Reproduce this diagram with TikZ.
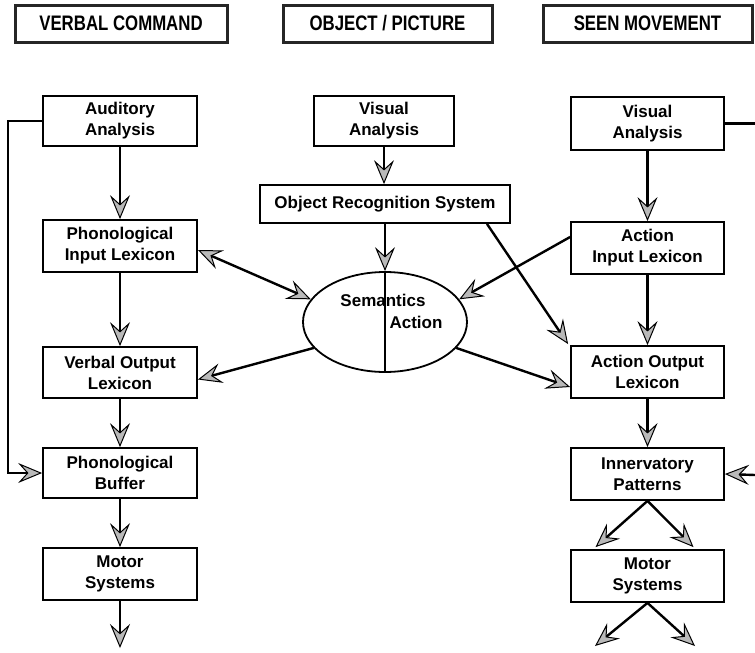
\documentclass[tikz,border=0pt]{standalone}
\usepackage{fontspec}
\setmainfont{Liberation Sans}
\newfontfamily\hdrfont[FakeStretch=0.8]{Liberation Sans}
\usetikzlibrary{arrows.meta,shapes.geometric}
\tikzset{
  gtip/.tip={Stealth[length=24pt,width=20pt,inset=9pt,fill=gray!55,line width=1pt]}}
\begin{document}
\begin{tikzpicture}[x=1pt,y=-1pt,
  box/.style={draw, line width=1.8pt, align=center, inner sep=0pt,
    font=\fontsize{17}{21}\selectfont\bfseries},
  hdr/.style={draw=black!85, line width=3pt, inner sep=0pt, minimum height=37pt,
    font=\hdrfont\fontsize{21}{24}\selectfont\bfseries},
  arr/.style={line width=2.4pt, -gtip},
  darr/.style={line width=2.4pt, gtip-gtip},
  ln/.style={line width=2.2pt}]
\useasboundingbox (0,0) rectangle (755,653);
% headers
\node[hdr, minimum width=212pt] (h1) at (121,23.5) {VERBAL COMMAND};
\node[hdr, minimum width=209pt] (h2) at (387.5,23.5) {OBJECT / PICTURE};
\node[hdr, minimum width=209pt] (h3) at (647.5,23.5) {SEEN MOVEMENT};
% left column
\node[box, minimum width=154pt, minimum height=50pt] (aud) at (120,121) {Auditory\\Analysis};
\node[box, minimum width=154pt, minimum height=52pt] (pil) at (120,246) {Phonological\\Input Lexicon};
\node[box, minimum width=154pt, minimum height=51pt] (vol) at (120,372.5) {Verbal Output\\Lexicon};
\node[box, minimum width=154pt, minimum height=50pt] (pb) at (120,473) {Phonological\\Buffer};
\node[box, minimum width=154pt, minimum height=52pt] (ms1) at (120,574) {Motor\\Systems};
\coordinate (out1) at (120,648);
\coordinate (fbtop) at (8,121);
\coordinate (fbbot) at (8,473);
% middle
\node[box, minimum width=140pt, minimum height=50pt] (va1) at (384,121) {Visual\\Analysis};
\node[box, minimum width=250pt, minimum height=38pt] (ors) at (385,204) {Object Recognition System};
\node[draw, line width=1.8pt, ellipse, minimum width=164pt, minimum height=100pt, inner sep=0pt] (ell) at (385,322) {};
\node[font=\fontsize{17}{21}\selectfont\bfseries, inner sep=0pt] (sem) at (383,300) {Semantics};
\node[font=\fontsize{17}{21}\selectfont\bfseries, inner sep=0pt] (act) at (416,322) {Action};
% right column
\node[box, minimum width=153pt, minimum height=53pt] (va2) at (647.5,123.5) {Visual\\Analysis};
\node[box, minimum width=153pt, minimum height=52pt] (ail) at (647.5,248) {Action\\Input Lexicon};
\node[box, minimum width=153pt, minimum height=52pt] (aol) at (647.5,372) {Action Output\\Lexicon};
\node[box, minimum width=153pt, minimum height=52pt] (ip) at (647.5,474) {Innervatory\\Patterns};
\node[box, minimum width=153pt, minimum height=52pt] (ms2) at (647.5,576) {Motor\\Systems};
\coordinate (vaout) at (755,123.5);
\coordinate (ipin) at (755,475);
\coordinate (o2a) at (595,646);
\coordinate (o2b) at (695,646);
% left connectors
\draw[arr] (aud.south) -- (pil.north);
\draw[arr] (pil.south) -- (vol.north);
\draw[arr] (vol.south) -- (pb.north);
\draw[arr] (pb.south) -- (ms1.north);
\draw[arr] (ms1.south) -- (out1);
\draw[arr] (aud.west) -- (fbtop) -- (fbbot) -- (pb.west);
% middle connectors
\draw[arr] (va1.south) -- (va1.south |- ors.north);
\draw[arr] (ors.south) -- (ell.north);
\draw[ln] (ell.north) -- (ell.south);
\draw[darr] ([yshift=-4pt]pil.east) -- (ell.163);
\draw[arr] (ell.200) -- ([yshift=-7pt]vol.east);
\draw[arr] ([yshift=11pt]ail.west) -- (ell.17);
\draw[arr] (ell.-20) -- ([yshift=-15pt]aol.west);
\draw[arr] ([xshift=102pt]ors.south) -- ([xshift=-2pt,yshift=1pt]aol.north west);
% right connectors
\draw[ln] (va2.east) -- (vaout);
\draw[arr] (va2.south) -- (ail.north);
\draw[arr] (ail.south) -- (aol.north);
\draw[arr] (aol.south) -- (ip.north);
\draw[arr] (ipin) -- (ip.east);
\draw[arr] (ip.south) -- ([xshift=-52pt,yshift=2pt]ms2.north);
\draw[arr] (ip.south) -- ([xshift=46pt,yshift=2pt]ms2.north);
\draw[arr] (ms2.south) -- (o2a);
\draw[arr] (ms2.south) -- (o2b);
\end{tikzpicture}
\end{document}
